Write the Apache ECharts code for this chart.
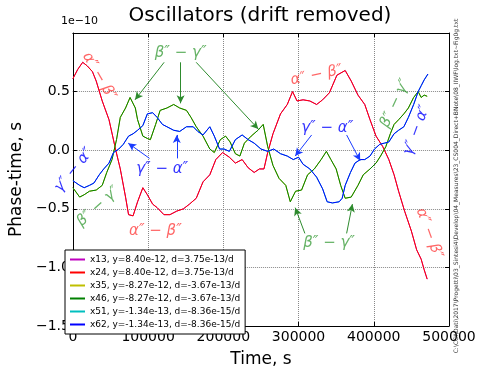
<!DOCTYPE html>
<html>
<head>
<meta charset="utf-8">
<script src="https://cdn.jsdelivr.net/npm/echarts@6/dist/echarts.min.js"></script>
<style>
	html, body { margin: 0; padding: 0; background: #fff; }
	#chart { width: 480px; height: 373px; }
</style>
</head>
<body>
<div id="chart"></div>
<script>
// values in units of 1e-10 s, time in s
const alphaBeta = [
	[0, 0.61], [6500, 0.69], [13000, 0.75], [19000, 0.72], [26000, 0.67], [31000, 0.59], [39000, 0.42],
	[48000, 0.26], [57000, 0.0], [63000, -0.16], [70000, -0.40], [74000, -0.55], [80000, -0.56],
	[86000, -0.44], [93000, -0.32], [99000, -0.38], [106000, -0.46], [112000, -0.49], [121000, -0.55],
	[129000, -0.55], [138000, -0.52], [147000, -0.50], [155000, -0.46], [164000, -0.41], [173000, -0.27],
	[182000, -0.21], [190000, -0.08], [199000, -0.02], [208000, -0.06], [216000, -0.11], [225000, -0.08],
	[233000, -0.15], [241000, -0.19], [248000, -0.16], [254000, -0.16], [259000, -0.02], [266000, 0.14],
	[276000, 0.31], [285000, 0.39], [292000, 0.50], [298000, 0.42], [306000, 0.43], [315000, 0.42],
	[324000, 0.39], [332000, 0.43], [341000, 0.49], [351000, 0.64], [362000, 0.68], [370000, 0.59],
	[379000, 0.47], [388000, 0.39], [395000, 0.26], [403000, 0.12], [412000, 0.03], [420000, -0.08],
	[427000, -0.21], [433000, -0.35], [441000, -0.52], [450000, -0.69], [457000, -0.85], [463000, -0.93],
	[467000, -1.02], [471000, -1.10]
];
const betaGamma = [
	[0, -0.32], [9000, -0.40], [15000, -0.38], [22000, -0.35], [31000, -0.34], [39000, -0.30],
	[45000, -0.19], [52000, -0.08], [58000, 0.09], [63000, 0.28], [70000, 0.36], [76000, 0.45],
	[83000, 0.36], [86000, 0.26], [93000, 0.12], [99000, 0.10], [103000, 0.09], [110000, 0.22],
	[116000, 0.34], [125000, 0.36], [134000, 0.39], [142000, 0.36], [151000, 0.34], [157000, 0.28],
	[164000, 0.20], [173000, 0.12], [182000, 0.01], [188000, -0.02], [196000, 0.09], [203000, 0.12],
	[209000, 0.07], [216000, -0.03], [222000, -0.05], [228000, 0.06], [237000, 0.12], [246000, 0.17],
	[253000, 0.22], [259000, 0.03], [266000, -0.13], [274000, -0.24], [283000, -0.30], [289000, -0.44],
	[296000, -0.35], [304000, -0.34], [312000, -0.21], [321000, -0.16], [330000, -0.08], [337000, -0.01],
	[343000, -0.08], [350000, -0.16], [356000, -0.30], [362000, -0.41], [370000, -0.40], [379000, -0.30],
	[386000, -0.21], [395000, -0.16], [403000, -0.11], [409000, -0.05], [416000, 0.03], [422000, 0.14],
	[427000, 0.22], [433000, 0.26], [440000, 0.31], [446000, 0.36], [453000, 0.45], [459000, 0.50],
	[463000, 0.45], [467000, 0.47], [471000, 0.46]
];
const gammaAlpha = [
	[0, -0.26], [9000, -0.30], [15000, -0.32], [22000, -0.30], [28000, -0.28], [35000, -0.21],
	[41000, -0.16], [48000, -0.11], [54000, -0.02], [61000, 0.01], [67000, 0.05], [74000, 0.12],
	[80000, 0.14], [86000, 0.17], [93000, 0.21], [99000, 0.31], [106000, 0.32], [112000, 0.28],
	[119000, 0.22], [125000, 0.20], [134000, 0.17], [142000, 0.16], [151000, 0.20], [160000, 0.20],
	[166000, 0.16], [173000, 0.13], [182000, 0.20], [188000, 0.12], [195000, 0.01], [201000, 0.01],
	[208000, -0.01], [216000, 0.09], [225000, 0.13], [233000, 0.09], [241000, 0.06], [250000, 0.01],
	[259000, -0.01], [267000, 0.01], [276000, -0.03], [285000, -0.05], [293000, -0.08], [300000, -0.06],
	[306000, -0.12], [315000, -0.16], [324000, -0.23], [332000, -0.33], [338000, -0.44], [345000, -0.45],
	[354000, -0.44], [358000, -0.41], [362000, -0.30], [369000, -0.19], [375000, -0.11], [382000, -0.08],
	[388000, -0.08], [395000, -0.05], [401000, 0.01], [408000, 0.05], [414000, 0.06], [420000, 0.07],
	[427000, 0.14], [433000, 0.17], [440000, 0.20], [446000, 0.28], [453000, 0.39], [459000, 0.50],
	[463000, 0.55], [467000, 0.60], [472000, 0.65]
];

const legendNames = [
	"x13, y=8.40e-12, d=3.75e-13/d",
	"x24, y=8.40e-12, d=3.75e-13/d",
	"x35, y=-8.27e-12, d=-3.67e-13/d",
	"x46, y=-8.27e-12, d=-3.67e-13/d",
	"x51, y=-1.34e-13, d=-8.36e-15/d",
	"x62, y=-1.34e-13, d=-8.36e-15/d"
];
const seriesColors = ["#bf00bf", "#ff0000", "#bfbf00", "#008000", "#00bfbf", "#0000ff"];
const seriesData = [alphaBeta, alphaBeta, betaGamma, betaGamma, gammaAlpha, gammaAlpha];

const xTicks = [0, 100000, 200000, 300000, 400000, 500000];
const yTicks = [-1.5, -1.0, -0.5, 0.0, 0.5];

// annotation arrows [from, to] in data coordinates
const greenArrows = [
	[[121300, 0.75], [82600, 0.43]],
	[[143200, 0.75], [143200, 0.40]],
	[[163900, 0.75], [246500, 0.18]],
	[[308400, -0.71], [295500, -0.49]],
	[[363900, -0.71], [371600, -0.46]]
];
const blueArrows = [
	[[101900, -0.07], [73500, 0.06]],
	[[138100, -0.07], [138100, 0.13]],
	[[317400, 0.13], [295500, -0.05]],
	[[363900, 0.13], [381900, -0.09]]
];
// annotation labels: text, centre in data coordinates, rotation in degrees
const labels = [
	{ text: "α″ − β″", at: [34800, 0.63], rot: -60, color: "rgba(255,0,0,0.6)" },
	{ text: "β″ − γ″", at: [143200, 0.83], rot: 0, color: "rgba(0,128,0,0.6)" },
	{ text: "γ″ − α″", at: [118700, -0.16], rot: 0, color: "rgba(0,0,255,0.8)" },
	{ text: "γ″ − α″", at: [338100, 0.19], rot: 0, color: "rgba(0,0,255,0.8)" },
	{ text: "γ″ − α″", at: [1300, -0.17], rot: 51, color: "rgba(0,0,255,0.8)" },
	{ text: "β″ − γ″", at: [33500, -0.48], rot: 42, color: "rgba(0,128,0,0.6)" },
	{ text: "α″ − β″", at: [109700, -0.69], rot: 0, color: "rgba(255,0,0,0.6)" },
	{ text: "α″ − β″", at: [323900, 0.64], rot: 12, color: "rgba(255,0,0,0.6)" },
	{ text: "β″ − γ″", at: [340600, -0.79], rot: 0, color: "rgba(0,128,0,0.6)" },
	{ text: "β″ − γ″", at: [428400, 0.40], rot: 65, color: "rgba(0,128,0,0.6)" },
	{ text: "γ″ − α″", at: [456800, 0.17], rot: 70, color: "rgba(0,0,255,0.8)" },
	{ text: "α″ − β″", at: [473500, -0.71], rot: -70, color: "rgba(255,0,0,0.6)" }
];

const FONT = "DejaVu Sans";

function arrowLines(list) {
	return list.map(function (a) {
		return [{ coord: a[0] }, { coord: a[1] }];
	});
}

const chart = echarts.init(document.getElementById("chart"), null, { renderer: "canvas" });

const series = legendNames.map(function (name, i) {
	const s = {
		name: name,
		type: "line",
		data: seriesData[i],
		showSymbol: false,
		symbol: "none",
		lineStyle: { width: 1, color: seriesColors[i] },
		itemStyle: { color: seriesColors[i] },
		animation: false,
		z: 2 + i
	};
	if (i === 3 || i === 5) {
		const col = i === 3 ? "#2e8b2e" : "#1a3cff";
		s.markLine = {
			silent: true,
			animation: false,
			symbol: ["none", "arrow"],
			symbolSize: [6, 8],
			label: { show: false },
			lineStyle: { type: "solid", width: 1, color: col },
			data: arrowLines(i === 3 ? greenArrows : blueArrows)
		};
	}
	return s;
});

const tickLabel = function (v) {
	return String(v).replace("-", "\u2212");
};

chart.setOption({
	animation: false,
	title: {
		text: "Oscillators (drift removed)",
		left: 255,
		top: 1,
		textAlign: "center",
		textStyle: { fontFamily: FONT, fontSize: 20, fontWeight: "normal", color: "#000" }
	},
	legend: {
		orient: "vertical",
		left: 65,
		top: 250,
		data: legendNames,
		icon: "rect",
		itemWidth: 15,
		itemHeight: 2,
		itemGap: 0,
		padding: [3, 5, 3, 5],
		backgroundColor: "#fff",
		borderColor: "#000",
		borderWidth: 1,
		borderRadius: 0,
		textStyle: { fontFamily: FONT, fontSize: 9, color: "#000", lineHeight: 13 },
		z: 20
	},
	grid: { left: 61, right: 31, top: 33, bottom: 38 },
	xAxis: [
		{
			type: "value",
			min: 0,
			max: 500000,
			interval: 100000,
			name: "Time, s",
			nameLocation: "middle",
			nameGap: 25,
			nameTextStyle: { fontFamily: FONT, fontSize: 17, color: "#000" },
			axisLine: { show: true, onZero: false, lineStyle: { color: "#000", width: 1 } },
			axisTick: { show: true, inside: true, length: 4, lineStyle: { color: "#000" } },
			axisLabel: {
				fontFamily: FONT, fontSize: 14, color: "#000", margin: 4,
				formatter: function (v) {
					return xTicks.indexOf(v) < 0 ? "" : String(v);
				}
			},
			splitLine: { show: true, lineStyle: { type: "dotted", color: "#888", width: 1 } }
		},
		{
			type: "value",
			position: "top",
			min: 0,
			max: 500000,
			interval: 100000,
			axisLine: { show: true, onZero: false, lineStyle: { color: "#000", width: 1 } },
			axisTick: { show: true, inside: true, length: 4, lineStyle: { color: "#000" } },
			axisLabel: { show: false },
			splitLine: { show: false }
		}
	],
	yAxis: [
		{
			type: "value",
			min: -1.5,
			max: 1.0,
			interval: 0.5,
			name: "Phase-time, s",
			nameLocation: "middle",
			nameGap: 38,
			nameTextStyle: { fontFamily: FONT, fontSize: 17, color: "#000" },
			axisLine: { show: true, onZero: false, lineStyle: { color: "#000", width: 1 } },
			axisTick: { show: true, inside: true, length: 4, lineStyle: { color: "#000" } },
			axisLabel: {
				fontFamily: FONT, fontSize: 14, color: "#000", margin: 3,
				formatter: function (v) {
					if (yTicks.indexOf(v) < 0) return "";
					return tickLabel(v.toFixed(1));
				}
			},
			splitLine: { show: true, lineStyle: { type: "dotted", color: "#888", width: 1 } }
		},
		{
			type: "value",
			position: "right",
			min: -1.5,
			max: 1.0,
			interval: 0.5,
			axisLine: { show: true, onZero: false, lineStyle: { color: "#000", width: 1 } },
			axisTick: { show: true, inside: true, length: 4, lineStyle: { color: "#000" } },
			axisLabel: { show: false },
			splitLine: { show: false }
		}
	],
	series: series
});

// labels placed through the axes' own scales
const graphics = labels.map(function (l) {
	const p = chart.convertToPixel({ xAxisIndex: 0, yAxisIndex: 0 }, l.at);
	return {
		type: "text",
		x: p[0],
		y: p[1],
		rotation: l.rot * Math.PI / 180,
		silent: true,
		z: 30,
		style: {
			text: l.text,
			fill: l.color,
			font: "italic 15px '" + FONT + "'",
			align: "center",
			verticalAlign: "middle"
		}
	};
});
graphics.push({
	type: "text",
	left: 61,
	top: 16,
	silent: true,
	style: { text: "1e\u221210", fill: "#000", font: "11px '" + FONT + "'" }
});
graphics.push({
	type: "text",
	x: 456,
	y: 186,
	rotation: Math.PI / 2,
	silent: true,
	style: {
		text: "C:\\CCI\\Dati\\2017\\Progetti\\03_Sintesi4\\Develop\\04_Measures\\23_CS004_Direct+BNote\\08_IIWF\\log.txt~Fig0g.txt",
		fill: "#333",
		font: "6px '" + FONT + "'",
		align: "center",
		verticalAlign: "middle"
	}
});
chart.setOption({ graphic: graphics });

window.addEventListener("resize", function () {
	chart.resize();
});
</script>
</body>
</html>
